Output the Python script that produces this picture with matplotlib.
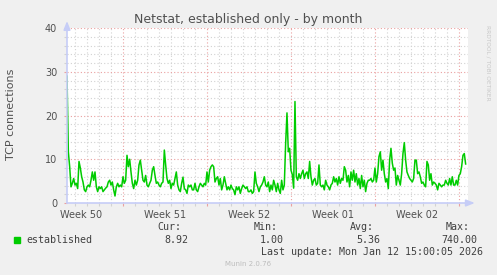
import numpy as np
import matplotlib
matplotlib.use('Agg')
import matplotlib.pyplot as plt

# Munin "netstat established" month graph
title = 'Netstat, established only - by month'
ylabel = 'TCP connections'
week_labels = ['Week 50', 'Week 51', 'Week 52', 'Week 01', 'Week 02']

span_days = 33.42      # visible range of the graph
first_monday = 4.64    # days from left edge to the first week boundary
step_days = 1.0 / 9    # spacing of the samples

established = [
    29, 11.7, 8.3, 3.7, 4.5, 5.6, 4.1, 4.5, 3.3, 9.5, 8.0, 6.0, 4.8, 3.0, 2.6,
    3.7, 4.1, 3.7, 5.2, 7.1, 5.2, 7.1, 3.7, 2.6, 3.7, 3.3, 3.7, 2.6, 3.0, 3.4,
    3.7, 4.8, 5.2, 4.1, 4.8, 3.0, 1.6, 3.7, 4.5, 3.7, 4.1, 3.7, 6.0, 4.5, 5.2,
    10.9, 8.3, 10.0, 7.1, 4.5, 3.3, 5.2, 4.1, 5.2, 8.7, 9.8, 7.5, 5.2, 4.8, 6.3,
    4.1, 3.7, 4.5, 5.2, 7.5, 8.3, 6.3, 4.5, 4.8, 4.1, 3.7, 4.5, 4.8, 12.1, 8.7,
    # week 51
    5.6, 4.5, 5.2, 3.3, 4.5, 4.1, 5.6, 7.1, 4.1, 3.0, 2.6, 4.5, 5.9, 3.3, 3.0,
    2.2, 4.1, 3.7, 4.1, 3.0, 3.0, 4.5, 3.0, 2.6, 3.7, 4.5, 4.1, 3.7, 4.5, 4.1,
    7.1, 4.8, 7.5, 8.3, 8.7, 8.3, 4.8, 5.6, 6.0, 4.1, 5.6, 3.0, 4.1, 6.0, 4.5,
    3.0, 3.7, 3.0, 4.1, 3.3, 3.0, 1.9, 3.7, 3.0, 3.7, 2.2, 3.3, 4.1, 3.7, 3.3,
    3.7, 2.6, 2.6, 3.0, 2.2, 2.6, 7.1, 4.5, 3.7, 2.6, 3.7, 4.1, 4.8, 6.0, 4.1,
    3.7, 4.8, 2.6,
    # week 52
    4.1, 3.0, 5.2, 4.1, 2.6, 4.5, 3.0, 2.2, 5.2, 3.0, 4.1, 13.6, 20.6, 11.7,
    12.5, 7.5, 6.5, 3.4, 23.2,
    6.0, 5.2, 6.7, 5.6, 6.7, 7.5, 5.6, 6.7, 7.1, 5.6, 9.5, 6.0, 4.1, 5.2, 5.6,
    4.1, 4.5, 8.7, 4.1, 3.7, 4.1, 3.0, 5.2, 4.1, 3.7, 3.0, 4.1, 4.5, 6.0, 4.8,
    5.6, 4.1, 6.0, 4.5, 5.6, 5.2, 8.3, 7.5, 4.8, 6.3, 3.7, 7.1, 5.2, 7.5, 4.8,
    6.7, 4.1, 5.6, 3.3, 6.3, 3.7, 5.2, 2.6, 4.5, 5.2,
    # week 01 / 02
    5.2, 5.6, 4.8, 5.2, 8.0, 4.8, 6.7, 10.6, 11.7, 7.5, 9.8, 6.7, 4.8, 5.6, 3.3,
    9.8, 12.5, 9.1, 7.5, 8.0, 4.1, 6.3, 5.2, 4.1, 6.7, 11.3, 13.8, 9.8, 7.1, 6.3,
    5.6, 5.2, 4.8, 5.6, 9.8, 9.8, 6.7, 7.1, 6.0, 4.5, 4.8, 4.1, 3.7, 9.5, 8.7,
    5.2, 6.7, 4.1, 4.8, 4.5, 4.1, 3.0, 4.5, 4.1, 3.7, 4.1, 4.1, 5.2, 4.5, 4.1,
    5.6, 4.1, 6.0, 4.1, 4.1, 5.2, 4.1, 6.3, 6.7, 8.3, 10.9, 11.3, 8.92,
]

stat_names = ['Cur:', 'Min:', 'Avg:', 'Max:']
stat_values = ['8.92', '1.00', '5.36', '740.00']
last_update = 'Last update: Mon Jan 12 15:00:05 2026'
version = 'Munin 2.0.76'

BG = '#f0f0f0'
GREEN = '#00cc00'
MINOR = '#d2d2d2'
MAJOR = '#eaa0a0'
AXIS = '#c6cdf7'
TXT = '#505050'

fig = plt.figure(figsize=(4.97, 2.75), dpi=100, facecolor=BG)
ax = fig.add_axes([67 / 497, 1 - 203 / 275, 401 / 497, 175 / 275])
ax.set_facecolor('white')
for s in ax.spines.values():
    s.set_visible(False)

t = np.arange(len(established)) * step_days
ax.set_xlim(0, span_days)
ax.set_ylim(0, 40)

# grid
days = np.arange(first_monday - 4, span_days, 1.0)
weeks = np.arange(first_monday, span_days, 7.0)
for d in days:
    if min(abs(d - weeks)) > 0.01:
        ax.axvline(d, color=MINOR, lw=0.8, dashes=(1, 2), zorder=1)
for w in weeks:
    ax.axvline(w, color=MAJOR, lw=0.8, dashes=(1, 2), zorder=1)
for y in range(2, 41, 2):
    if y % 10:
        ax.axhline(y, color=MINOR, lw=0.8, dashes=(1, 2), zorder=1)
    else:
        ax.axhline(y, color=MAJOR, lw=0.8, dashes=(1, 2), zorder=1)

ax.plot(t, established, color=GREEN, lw=1.1, zorder=3)

# ticks
ax.set_yticks(range(0, 41, 10))
ax.set_yticks(range(0, 41, 2), minor=True)
ax.set_xticks(weeks)
ax.set_xticks([d for d in days if min(abs(d - weeks)) > 0.01], minor=True)
ax.set_xticklabels([])
ax.tick_params(which='major', color=MAJOR, length=2, width=0.8,
               labelsize=7, labelcolor=TXT, pad=5)
ax.tick_params(which='minor', color=MINOR, length=2, width=0.8)
for i, lab in enumerate(week_labels):
    ax.text(first_monday - 3.5 + 7 * i, -1.6, lab, ha='center', va='top',
            fontsize=7, color=TXT)

# axis arrows
ax.annotate('', xy=(0, 1.04), xytext=(0, 0), xycoords='axes fraction',
            arrowprops=dict(arrowstyle='-|>,head_length=0.5,head_width=0.2',
                            color=AXIS, lw=1.2, shrinkA=0, shrinkB=0), zorder=5)
ax.annotate('', xy=(1.017, 0), xytext=(0, 0), xycoords='axes fraction',
            arrowprops=dict(arrowstyle='-|>,head_length=0.5,head_width=0.2',
                            color=AXIS, lw=1.2, shrinkA=0, shrinkB=0), zorder=5)

# texts
fig.text(248 / 497, 1 - 19 / 275, title, ha='center', va='center',
         fontsize=9, color=TXT)
fig.text(11 / 497, 1 - 114 / 275, ylabel, rotation=90, ha='center',
         va='center', fontsize=8, color=TXT)
fig.text(488 / 497, 1 - 25 / 275, 'RRDTOOL / TOBI OETIKER', rotation=270,
         ha='center', va='top', fontsize=4.2, color='#c8c8c8')

mono = dict(family='DejaVu Sans Mono', fontsize=7.2, color='#404040')
fig.patches.append(plt.Rectangle((14 / 497, 1 - 243 / 275), 6 / 497, 6 / 275,
                                 transform=fig.transFigure, color=GREEN))
fig.text(26 / 497, 1 - 240 / 275, 'established', ha='left', va='center', **mono)
name_right = [181, 278, 374, 470]
val_right = [188, 284, 380, 477]
for n, v, xn, xv in zip(stat_names, stat_values, name_right, val_right):
    fig.text(xn / 497, 1 - 227.5 / 275, n, ha='right', va='center', **mono)
    fig.text(xv / 497, 1 - 240 / 275, v, ha='right', va='center', **mono)
fig.text(483 / 497, 1 - 252 / 275, last_update, ha='right', va='center', **mono)
fig.text(248 / 497, 1 - 264 / 275, version, ha='center', va='center',
         fontsize=5, color='#bdbdbd')

fig.savefig('out.png', dpi=100, facecolor=BG)
